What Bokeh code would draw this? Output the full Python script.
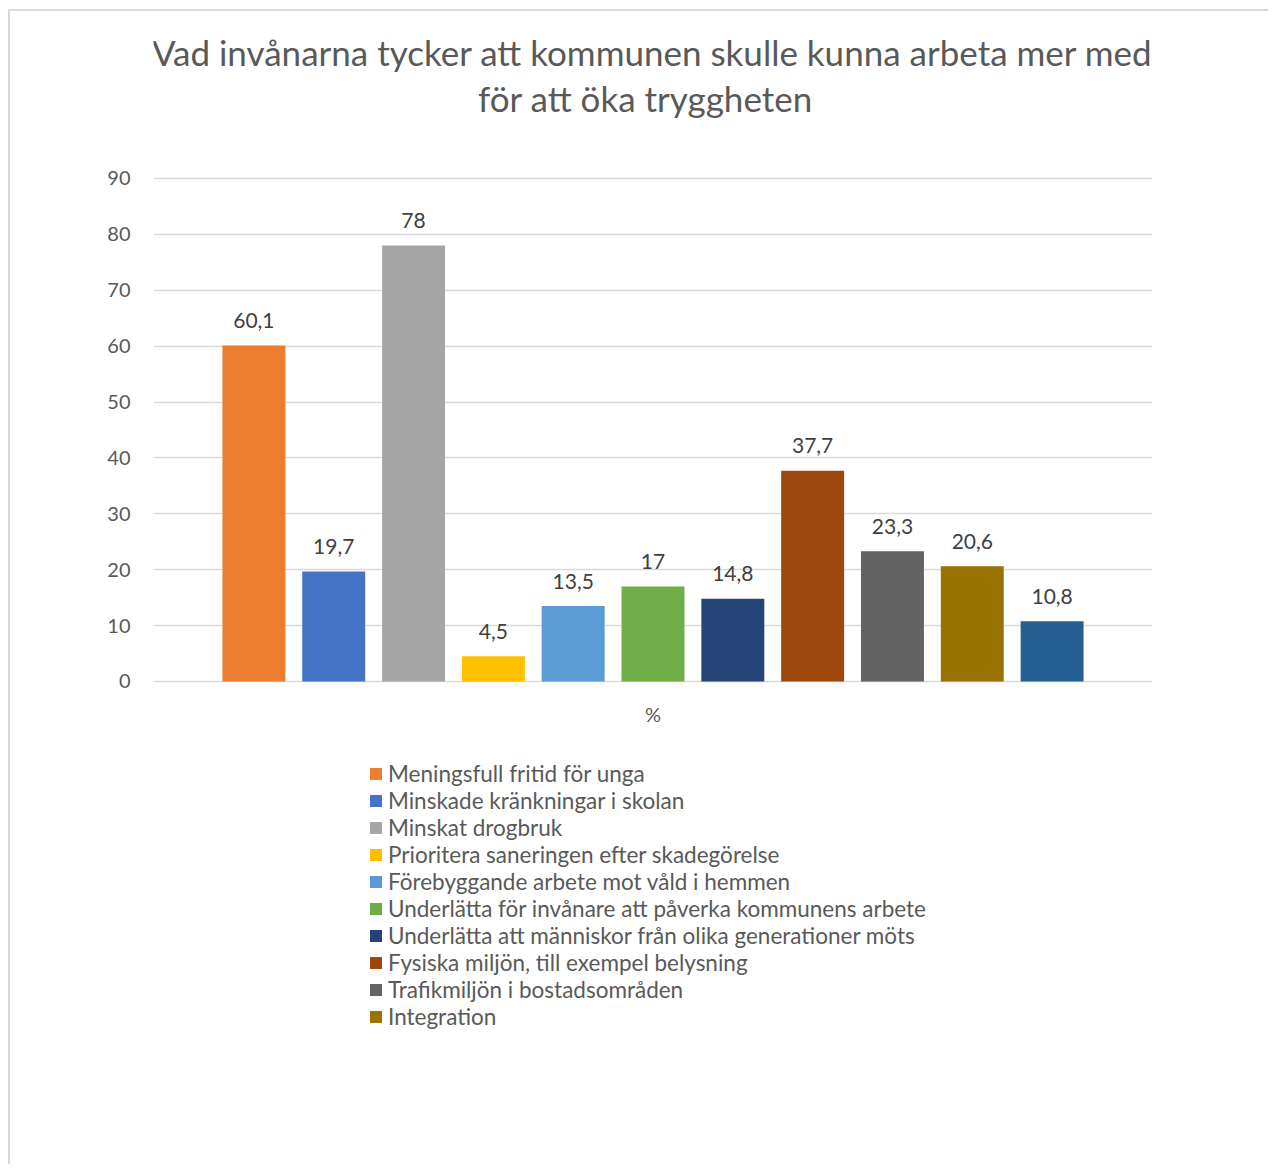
from bokeh.plotting import figure
from bokeh.models import FactorRange, Legend, LegendItem, Label, ColumnDataSource, Range1d
from bokeh.transform import dodge
from bokeh.core.properties import value
from bokeh.embed import file_html
from bokeh.resources import INLINE

title_lines = ["Vad invånarna tycker att kommunen skulle kunna arbeta mer med",
               "för att öka tryggheten"]
category = ["%"]
series_names = [
    "Meningsfull fritid för unga",
    "Minskade kränkningar i skolan",
    "Minskat drogbruk",
    "Prioritera saneringen efter skadegörelse",
    "Förebyggande arbete mot våld i hemmen",
    "Underlätta för invånare att påverka kommunens arbete",
    "Underlätta att människor från olika generationer möts",
    "Fysiska miljön, till exempel belysning",
    "Trafikmiljön i bostadsområden",
    "Integration",
    None,  # eleventh series, not shown in the (cut off) legend
]
values = [60.1, 19.7, 78, 4.5, 13.5, 17, 14.8, 37.7, 23.3, 20.6, 10.8]
value_labels = ["60,1", "19,7", "78", "4,5", "13,5", "17", "14,8", "37,7", "23,3", "20,6", "10,8"]
colors = ["#ED7D31", "#4472C4", "#A5A5A5", "#FFC000", "#5B9BD5", "#70AD47",
          "#264478", "#9E480E", "#636363", "#997300", "#255E91"]
y_ticks = [0, 10, 20, 30, 40, 50, 60, 70, 80, 90]

FONT = "Lato"
TXT = "#595959"

W, H = 1260, 1155
FL, FR = 143, 118
# plot area spans the full height; the value axis occupies 0..90 within it
Y0, Y1 = -86.78, 119.88

p = figure(x_range=FactorRange(factors=category), y_range=Range1d(Y0, Y1),
           width=W, height=H, output_backend="svg", toolbar_location=None,
           min_border_left=FL, min_border_right=FR, min_border_top=0, min_border_bottom=0)
p.outline_line_color = None
p.background_fill_color = "white"
p.border_fill_color = "white"
p.xaxis.visible = False
p.styles = {"margin-left": "8px", "margin-top": "9px",
            "border-left": "2px solid #d9d9d9", "border-top": "2px solid #d9d9d9"}

n = len(values)
step = 0.0799
bw = 0.063
items = []
for i in range(n):
    off = (i - (n - 1) / 2) * step
    src = ColumnDataSource(dict(x=category, top=[values[i]], lab=[value_labels[i]]))
    r = p.vbar(x=dodge("x", off, range=p.x_range), top="top", bottom=0, width=bw, source=src,
               fill_color=colors[i], line_color=None)
    p.text(x=dodge("x", off, range=p.x_range), y="top", text="lab", source=src,
           text_align="center", text_baseline="middle", y_offset=-25,
           text_font=value(FONT), text_font_size="21px", text_color="#404040")
    if series_names[i]:
        items.append(LegendItem(label=series_names[i], renderers=[r]))

legend = Legend(items=items, location=(215, 136), orientation="vertical",
                padding=0, margin=0, spacing=0, label_height=27, label_standoff=5,
                glyph_width=15, glyph_height=15, border_line_color=None,
                background_fill_alpha=0, label_text_font=FONT,
                label_text_font_size="22.5px", label_text_color=TXT)
p.add_layout(legend, "center")

p.yaxis.ticker = y_ticks
p.yaxis.axis_line_color = None
p.yaxis.major_tick_line_color = None
p.yaxis.minor_tick_line_color = None
p.yaxis.major_label_standoff = 17
p.yaxis.major_label_text_font = FONT
p.yaxis.major_label_text_font_size = "20px"
p.yaxis.major_label_text_color = TXT
p.xgrid.grid_line_color = None
p.ygrid.grid_line_color = "#d9d9d9"
p.ygrid.grid_line_width = 1.5

# category label under the bars
p.add_layout(Label(x=499.5, y=453, x_units="screen", y_units="screen", text=category[0],
                   text_align="center", text_baseline="middle",
                   text_font=FONT, text_font_size="20px", text_color=TXT))

for txt, xx, yy in zip(title_lines, [499, 492], [1115, 1069]):
    p.add_layout(Label(x=xx, y=yy, x_units="screen", y_units="screen", text=txt,
                       text_align="center", text_baseline="middle",
                       text_font=FONT, text_font_size="35px", text_color=TXT))

open("out.html", "w").write(file_html(p, INLINE))
